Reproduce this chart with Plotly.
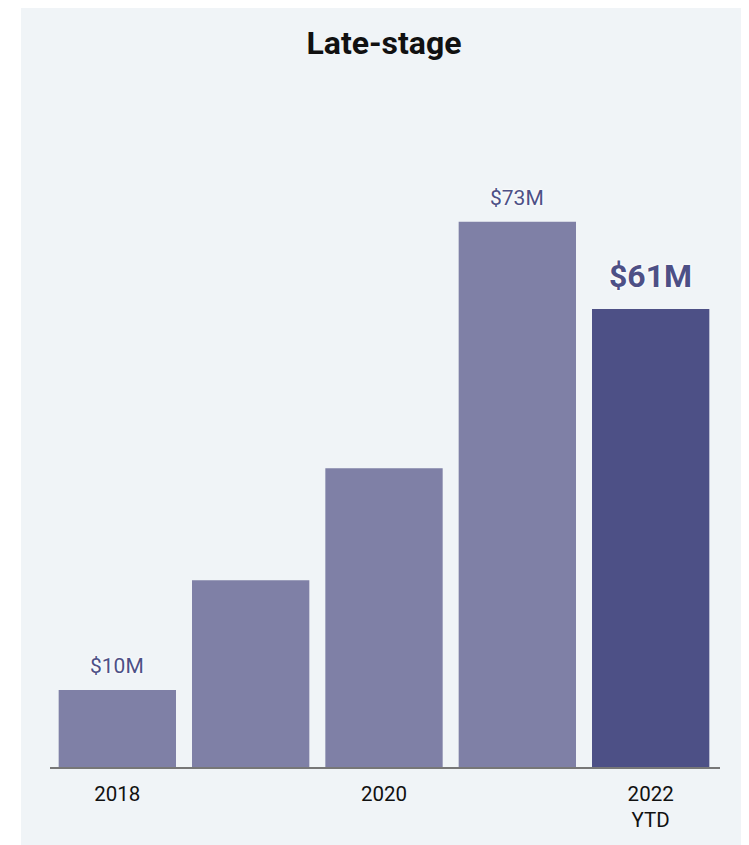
import plotly.graph_objects as go

categories = ["2018", "2019", "2020", "2021", "2022 YTD"]
values = [10.3, 25, 40, 73, 61.3]
bar_colors = ["#7f80a6", "#7f80a6", "#7f80a6", "#7f80a6", "#4d5086"]
tick_positions = ["2018", "2020", "2022 YTD"]
tick_labels = ["2018", "2020", "2022<br>YTD"]
label_idx = [0, 3, 4]
label_texts = ["$10M", "$73M", "<b>$61M</b>"]

OFF = 8  # browser body margin
W, H = 749 - OFF, 845 - OFF
L, R, T, B = 50 - OFF, 29, 100 - OFF, 78
plot_h = H - T - B
px_per_unit = 7.47
ymax = plot_h / px_per_unit

fig = go.Figure()
fig.add_trace(go.Bar(
    x=categories, y=values,
    marker=dict(color=bar_colors, line=dict(width=0)),
    hoverinfo="skip",
))

pw = W - L - R
fig.add_shape(type="rect", xref="paper", yref="paper", layer="below",
              x0=(21 - OFF - L) / pw, x1=(W + 10 - L) / pw,
              y0=-(B + 10) / plot_h, y1=(H - B - (5 - OFF)) / plot_h,
              fillcolor="#f0f4f7", line=dict(width=0))

for i, t in zip(label_idx, label_texts):
    big = i == 4
    fig.add_annotation(
        x=i, y=values[i], text=t, showarrow=False,
        yanchor="middle", yshift=33 if big else 24,
        font=dict(family="Roboto", size=32 if big else 21, color="#4d5086",
                  shadow="0px 0px 3px #ffffff, 0px 0px 3px #ffffff"),
    )

fig.update_layout(
    width=W, height=H,
    margin=dict(l=L, r=R, t=T, b=B),
    paper_bgcolor="#ffffff", plot_bgcolor="rgba(0,0,0,0)",
    bargap=0.12,
    showlegend=False,
    title=dict(text="<b>Late-stage</b>", x=(384 - OFF) / W, xanchor="center",
               y=1 - (43 - OFF) / H, yanchor="middle",
               font=dict(family="Roboto", size=32, color="#111111")),
    font=dict(family="Roboto", color="#111111"),
    xaxis=dict(
        type="category", tickvals=tick_positions, ticktext=tick_labels,
        range=[-0.505, 4.52],
        showline=True, linecolor="#777777", linewidth=2,
        showgrid=False, ticks="", tickfont=dict(size=20.5, color="#111111"),
        ticklabelstandoff=7, tickangle=0,
    ),
    yaxis=dict(range=[0, ymax], visible=False, showgrid=False, zeroline=False),
)

fig.write_html("out.html")
